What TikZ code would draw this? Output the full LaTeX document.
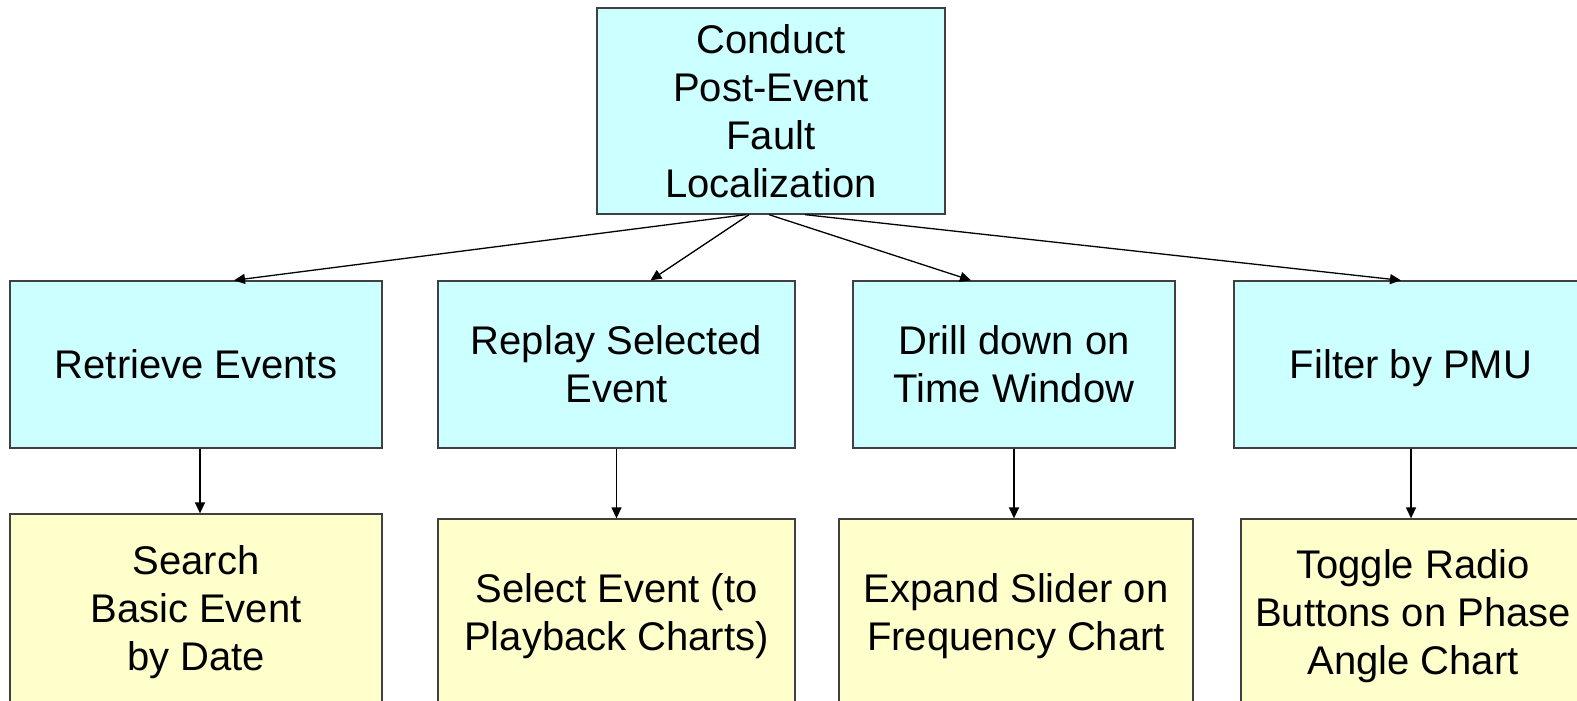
\documentclass[tikz,border=0pt]{standalone}
\usepackage{fontspec}
\setmainfont{Liberation Sans}
\usetikzlibrary{arrows.meta,positioning}
\definecolor{taskcyan}{RGB}{204,255,255}
\definecolor{actionyellow}{RGB}{255,255,204}

\begin{document}
\begin{tikzpicture}[x=1pt,y=-1pt,
   >={Triangle[length=11pt,width=10pt]},
   task/.style={draw=black!75,line width=1.3pt,fill=taskcyan,align=center,
     inner sep=0pt,font=\fontsize{40}{48}\selectfont,text depth=0pt},
   action/.style={task,fill=actionyellow},
   link/.style={->,line width=1.3pt}]
   \useasboundingbox (0,0) rectangle (1577,701);
   \clip (0,0) rectangle (1577,701);
   % top goal
   \node[task,minimum width=348pt,minimum height=206pt] (goal) at (771,111)
      {Conduct\\Post-Event\\Fault\\Localization};
   % sub tasks
   \node[task,minimum width=372pt,minimum height=167pt] (t_1) at (196,364.5) {Retrieve Events};
   \node[task,minimum width=357pt,minimum height=167pt] (t_2) at (616.5,364.5) {Replay Selected\\Event};
   \node[task,minimum width=322pt,minimum height=167pt] (t_3) at (1014,364.5) {Drill down on\\Time Window};
   \node[task,minimum width=354pt,minimum height=167pt] (t_4) at (1411,364.5) {Filter by PMU};
   % actions
   \node[action,minimum width=372pt,minimum height=188pt] (a_1) at (196,608) {Search\\Basic Event\\by Date};
   \node[action,minimum width=357pt,minimum height=186pt] (a_2) at (616.5,612) {Select Event (to\\Playback Charts)};
   \node[action,minimum width=354pt,minimum height=186pt] (a_3) at (1016,612) {Expand Slider on\\Frequency Chart};
   \node[action,minimum width=344pt,minimum height=186pt] (a_4) at (1413,612) {Toggle Radio\\Buttons on Phase\\Angle Chart};

   \draw[link] ([xshift=-25pt]goal.south) -- ([xshift=38pt]t_1.north);
   \draw[link] ([xshift=-22pt]goal.south) -- ([xshift=34pt]t_2.north);
   \draw[link] ([xshift=-2pt]goal.south) -- ([xshift=-43pt]t_3.north);
   \draw[link] ([xshift=34pt]goal.south) -- ([xshift=-10pt]t_4.north);

   \draw[link] ([xshift=4pt]t_1.south) -- ([xshift=4pt]t_1.south |- a_1.north);
   \draw[link] (t_2.south) -- (a_2.north);
   \draw[link] (t_3.south) -- (t_3.south |- a_3.north);
   \draw[link] (t_4.south) -- (t_4.south |- a_4.north);
\end{tikzpicture}
\end{document}
